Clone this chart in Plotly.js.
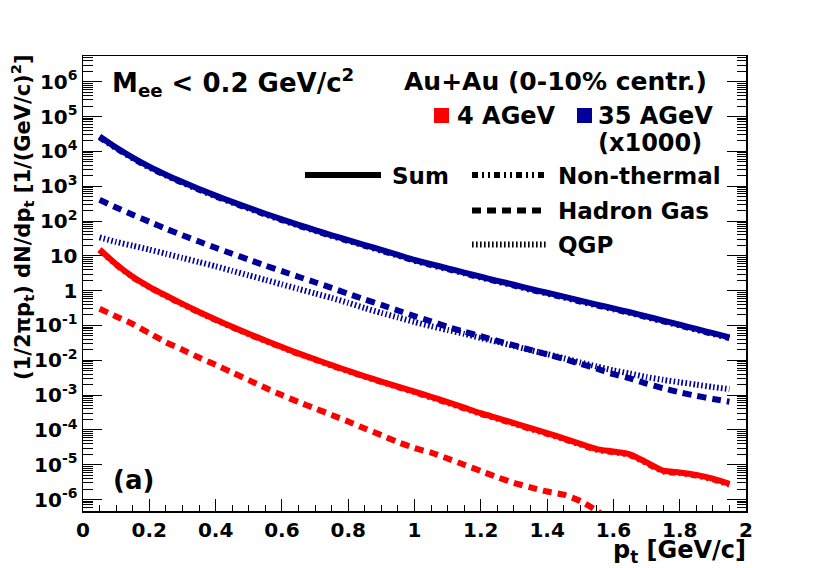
<!DOCTYPE html>
<html>
<head>
<meta charset="utf-8">
<script src="https://cdn.plot.ly/plotly-3.0.1.min.js"></script>
<style>html,body{margin:0;padding:0;background:#fff;}#chart{width:830px;height:568px;}</style>
</head>
<body>
<div id="chart"></div>
<script>
// transverse momentum p_t [GeV/c]
const pt = [0.05,0.10,0.15,0.20,0.25,0.30,0.35,0.40,0.45,0.50,0.55,0.60,0.65,0.70,0.75,0.80,0.85,0.90,0.95,1.00,
            1.05,1.10,1.15,1.20,1.25,1.30,1.35,1.40,1.45,1.50,1.55,1.60,1.65,1.70,1.75,1.80,1.85,1.90,1.95];

// 35 AGeV (x1000)
const sum35 = [2.69e4,1.29e4,6.61e3,3.63e3,2.14e3,1.32e3,832,537,355,240,162,112,77.6,55.0,38.9,28.2,20.4,14.8,10.7,7.59,
               5.75,4.37,3.31,2.51,1.91,1.48,1.12,0.871,0.676,0.513,0.398,0.309,0.240,0.182,0.138,0.105,0.0794,0.0603,0.0457];
const nonth35 = [2.55e4,1.22e4,6.28e3,3.44e3,2.03e3,1.25e3,790,509,337,228,154,106,73.7,52.2,36.9,26.8,19.4,14.0,10.2,7.20,
                 5.45,4.14,3.13,2.38,1.81,1.40,1.06,0.825,0.640,0.486,0.377,0.293,0.227,0.172,0.131,0.0995,0.0752,0.0571,0.0433];
const hg35 = [407,245,151,95.5,60.3,38.9,25.7,17.0,11.5,7.76,5.25,3.63,2.51,1.74,1.20,0.813,0.562,0.389,0.269,0.186,
              0.132,0.0912,0.0661,0.0490,0.0363,0.0269,0.0200,0.0148,0.0110,7.94e-3,5.75e-3,3.98e-3,3.02e-3,2.14e-3,1.58e-3,1.20e-3,9.55e-4,7.76e-4,6.46e-4];
const qgp35 = [33.9,25.1,19.5,15.1,11.5,8.71,6.61,5.01,3.72,2.75,2.04,1.51,1.12,0.832,0.617,0.447,0.316,0.229,0.170,0.126,
               0.0955,0.0741,0.0575,0.0437,0.0339,0.0257,0.0195,0.0151,0.0115,8.71e-3,6.61e-3,5.13e-3,4.17e-3,3.31e-3,2.75e-3,2.34e-3,2.00e-3,1.70e-3,1.48e-3];

// 4 AGeV
const sum4 = [15.1,5.75,2.51,1.29,0.724,0.417,0.245,0.148,0.0912,0.0575,0.0372,0.0240,0.0158,0.0107,7.24e-3,5.01e-3,3.47e-3,2.45e-3,1.74e-3,1.26e-3,
              8.91e-4,6.31e-4,4.37e-4,3.02e-4,2.19e-4,1.58e-4,1.12e-4,8.13e-5,5.75e-5,3.98e-5,2.82e-5,2.40e-5,2.00e-5,1.17e-5,6.76e-6,6.03e-6,5.13e-6,3.98e-6,2.82e-6];
const nonth4 = [14.7,5.58,2.43,1.25,0.702,0.404,0.238,0.144,0.0885,0.0558,0.0361,0.0233,0.0153,0.0104,7.02e-3,4.86e-3,3.37e-3,2.38e-3,1.69e-3,1.22e-3,
                8.46e-4,5.99e-4,4.15e-4,2.87e-4,2.08e-4,1.50e-4,1.06e-4,7.72e-5,5.46e-5,3.78e-5,2.68e-5,2.28e-5,1.90e-5,1.11e-5,6.42e-6,5.73e-6,4.87e-6,3.78e-6,2.68e-6];
const hg4 = [0.302,0.182,0.110,0.0603,0.0331,0.0200,0.0120,7.41e-3,4.47e-3,2.69e-3,1.62e-3,1.00e-3,6.31e-4,4.17e-4,2.69e-4,1.74e-4,1.10e-4,7.08e-5,4.47e-5,3.02e-5,
             2.24e-5,1.51e-5,1.00e-5,6.61e-6,4.37e-6,3.02e-6,2.24e-6,1.70e-6,1.38e-6,9.12e-7,4.79e-7,2.00e-7];

// y tick labels
const yTickVals = [1e-6,1e-5,1e-4,1e-3,1e-2,1e-1,1,10,1e2,1e3,1e4,1e5,1e6];
const yTickText = ['10<sup>-6</sup>','10<sup>-5</sup>','10<sup>-4</sup>','10<sup>-3</sup>','10<sup>-2</sup>','10<sup>-1</sup>',
                   '1','10','10<sup>2</sup>','10<sup>3</sup>','10<sup>4</sup>','10<sup>5</sup>','10<sup>6</sup>'];

const RED = '#ff0000', BLUE = '#000099';
const DASH_HG = '9px,6px', DASH_QGP = '1.6px,2.4px', DASH_NT = '6px,4px,2px,4px,2px,4px';

function tr(y, color, dash) {
  return {x: pt.slice(0, y.length), y: y, type: 'scatter', mode: 'lines', showlegend: false,
          hoverinfo: 'skip', line: {color: color, width: 6, dash: dash, shape: 'spline', smoothing: 0.6}};
}

const data = [
  tr(hg4, RED, DASH_HG),
  tr(nonth4, RED, DASH_NT),
  tr(sum4, RED, 'solid'),
  tr(qgp35, BLUE, DASH_QGP),
  tr(hg35, BLUE, DASH_HG),
  tr(nonth35, BLUE, DASH_NT),
  tr(sum35, BLUE, 'solid')
];

// pixel -> paper helpers for decorations
const L = 83, R = 746, T = 56, B = 511;
const px = v => (v - L) / (R - L);
const py = v => (B - v) / (B - T);
const FONT = 'DejaVu Sans';

function ann(text, x, y, size, xanchor, extra) {
  return Object.assign({text: text, x: px(x), y: py(y), xref: 'paper', yref: 'paper', showarrow: false,
    xanchor: xanchor, yanchor: 'middle', font: {family: FONT, size: size, color: '#000', weight: 'bold'}}, extra || {});
}

const annotations = [
  ann('M<sub>ee</sub> &lt; 0.2 GeV/c<sup>2</sup>', 110, 82, 26, 'left'),
  ann('Au+Au (0-10% centr.)', 709, 81, 25, 'right'),
  ann('4 AGeV', 455, 116, 24, 'left'),
  ann('35 AGeV', 596, 116, 24, 'left'),
  ann('(x1000)', 596, 143, 24, 'left'),
  ann('Sum', 390, 176, 23, 'left'),
  ann('Non-thermal', 556, 176, 23, 'left'),
  ann('Hadron Gas', 556, 211, 23, 'left'),
  ann('QGP', 556, 245, 23, 'left'),
  ann('(a)', 111, 480, 26, 'left'),
  ann('p<sub>t</sub> [GeV/c]', 748, 551, 24, 'right'),
  ann('(1/2πp<sub>t</sub>) dN/dp<sub>t</sub> [1/(GeV/c)<sup>2</sup>]', 22, 217, 21, 'center', {textangle: -90})
];

function lineShape(x0, x1, y, dash) {
  return {type: 'line', xref: 'paper', yref: 'paper', x0: px(x0), x1: px(x1), y0: py(y), y1: py(y),
          line: {color: '#000', width: 6, dash: dash}};
}
function sq(x0, y0, color) {
  return {type: 'rect', xref: 'paper', yref: 'paper', x0: px(x0), x1: px(x0 + 15), y0: py(y0), y1: py(y0 + 15),
          fillcolor: color, line: {width: 0}};
}
const shapes = [
  sq(434, 108, RED), sq(577, 108, BLUE),
  lineShape(305, 381, 175, 'solid'),
  lineShape(472, 547, 175, DASH_NT),
  lineShape(472, 547, 210.5, DASH_HG),
  lineShape(472, 547, 244.5, DASH_QGP)
];

const tickfont = {family: FONT, size: 20, color: '#000', weight: 'bold'};
const layout = {
  width: 830, height: 568,
  margin: {l: L, r: 830 - R, t: T, b: 568 - B, pad: 0},
  paper_bgcolor: '#fff', plot_bgcolor: '#fff',
  font: {family: FONT, color: '#000', weight: 'bold'},
  xaxis: {range: [0, 2], dtick: 0.2, tick0: 0, ticks: 'inside', ticklen: 12, tickwidth: 1, tickcolor: '#000',
          showline: true, linecolor: '#000', linewidth: 1.5, mirror: true, showgrid: false, zeroline: false,
          tickfont: tickfont, fixedrange: true,
          minor: {dtick: 0.05, ticks: 'inside', ticklen: 6, tickwidth: 1, tickcolor: '#000', showgrid: false}},
  yaxis: {type: 'log', range: [-6.328, 6.739], tickmode: 'array', tickvals: yTickVals, ticktext: yTickText,
          ticks: 'inside', ticklen: 19, tickwidth: 1, tickcolor: '#000',
          showline: true, linecolor: '#000', linewidth: 1.5, mirror: 'ticks',
          showgrid: false, zeroline: false, tickfont: tickfont, fixedrange: true,
          minor: {tickmode: 'linear', dtick: 'D1', ticks: 'inside', ticklen: 9.5, tickwidth: 1, tickcolor: '#000', showgrid: false}},
  annotations: annotations,
  shapes: shapes
};

Plotly.newPlot('chart', data, layout, {staticPlot: true, displayModeBar: false});
</script>
</body>
</html>
